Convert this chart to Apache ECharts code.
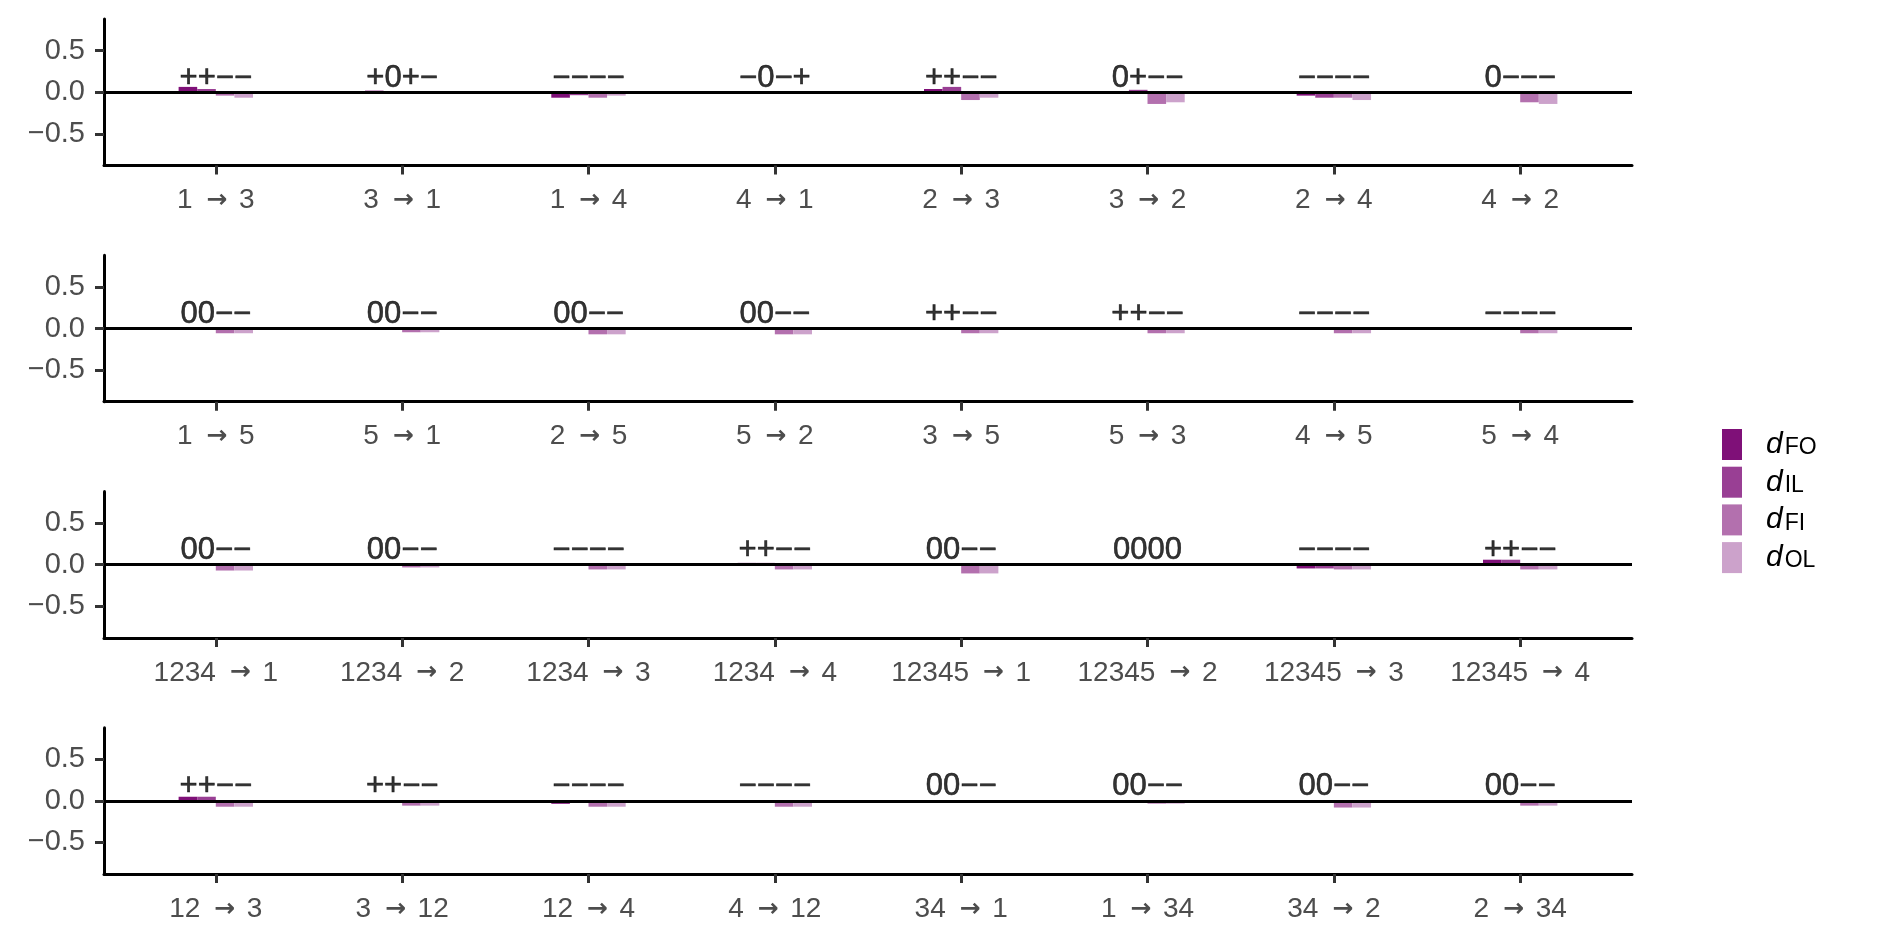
<!DOCTYPE html>
<html>
<head>
<meta charset="utf-8">
<script src="https://cdn.jsdelivr.net/npm/echarts@6/dist/echarts.min.js"></script>
<style>
html,body{margin:0;padding:0;background:#fff;}
#chart{width:1889px;height:944px;}
</style>
</head>
<body>
<div id="chart"></div>
<script>
// ---- data ----
const categories = [
  ['1 → 3','3 → 1','1 → 4','4 → 1','2 → 3','3 → 2','2 → 4','4 → 2'],
  ['1 → 5','5 → 1','2 → 5','5 → 2','3 → 5','5 → 3','4 → 5','5 → 4'],
  ['1234 → 1','1234 → 2','1234 → 3','1234 → 4','12345 → 1','12345 → 2','12345 → 3','12345 → 4'],
  ['12 → 3','3 → 12','12 → 4','4 → 12','34 → 1','1 → 34','34 → 2','2 → 34']
];
const dFO = [
  [0.065, 0.02, -0.065, -0.02, 0.04, 0.005, -0.04, -0.005],
  [0, 0.004, 0.004, 0, 0.005, 0.005, -0.004, -0.004],
  [0, 0, -0.004, 0.022, 0.004, 0, -0.045, 0.06],
  [0.05, 0.01, -0.035, -0.005, 0.005, 0.005, 0, 0.005]
];
const dIL = [
  [0.04, 0, -0.035, 0, 0.065, 0.03, -0.065, -0.02],
  [0, 0.004, 0, 0, 0.005, 0.005, -0.004, -0.004],
  [0, 0, -0.004, 0.022, 0, 0, -0.045, 0.06],
  [0.05, 0.01, -0.022, -0.005, 0.005, 0.005, 0, 0.005]
];
const dFI = [
  [-0.04, 0.008, -0.065, -0.008, -0.093, -0.14, -0.065, -0.12],
  [-0.057, -0.045, -0.07, -0.07, -0.057, -0.057, -0.057, -0.057],
  [-0.07, -0.033, -0.057, -0.057, -0.105, 0, -0.057, -0.057],
  [-0.07, -0.057, -0.07, -0.07, -0.004, -0.033, -0.08, -0.057]
];
const dOL = [
  [-0.065, -0.008, -0.04, 0.008, -0.065, -0.12, -0.093, -0.14],
  [-0.057, -0.045, -0.07, -0.07, -0.057, -0.057, -0.057, -0.057],
  [-0.07, -0.033, -0.057, -0.057, -0.105, 0, -0.057, -0.057],
  [-0.07, -0.057, -0.07, -0.07, -0.004, -0.033, -0.08, -0.057]
];
const signs = [
  ['++−−','+0+−','−−−−','−0−+','++−−','0+−−','−−−−','0−−−'],
  ['00−−','00−−','00−−','00−−','++−−','++−−','−−−−','−−−−'],
  ['00−−','00−−','−−−−','++−−','00−−','0000','−−−−','++−−'],
  ['++−−','++−−','−−−−','−−−−','00−−','00−−','00−−','00−−']
];
const seriesNames = ['dFO','dIL','dFI','dOL'];
const seriesSubs = ['FO','IL','FI','OL'];
const seriesColors = ['#7F1078','#993F94','#B370AE','#CCA2CB'];
const yTicks = [-0.5, 0, 0.5];
const signLabelY = 0.17;

// ---- layout ----
const FONT = "'Liberation Sans', Arial, sans-serif";
const gridLeft = 104, gridWidth = 1528, gridHeight = 146.4;
const gridTops = [19.1, 255.3, 491.5, 727.7];

const grids = [], xAxes = [], yAxes = [], series = [];
const allVals = [dFO, dIL, dFI, dOL];

for (let p = 0; p < 4; p++) {
  grids.push({left: gridLeft, top: gridTops[p], width: gridWidth, height: gridHeight, containLabel: false});
  const cats = categories[p];
  xAxes.push({
    gridIndex: p, type: 'value', min: 0.4, max: 8.6,
    axisLine: {show: true, onZero: false, lineStyle: {color: '#000', width: 3}},
    axisTick: {show: true, length: 9, lineStyle: {color: '#333', width: 3}, customValues: [1,2,3,4,5,6,7,8]},
    axisLabel: {show: true, customValues: [1,2,3,4,5,6,7,8], margin: 21, color: '#4D4D4D',
      fontFamily: FONT, fontSize: 28,
      formatter: v => (cats[Math.round(v) - 1] || '').replace('→', '{a|→}'),
      rich: {
        a: {fontFamily: "'DejaVu Sans'", fontWeight: 'bold', fontSize: 25, color: '#4D4D4D', padding: [0, 4, 0, 6]}
      }},
    splitLine: {show: false}
  });
  yAxes.push({
    gridIndex: p, type: 'value', min: -0.88, max: 0.88,
    axisLine: {show: true, onZero: false, lineStyle: {color: '#000', width: 3}},
    axisTick: {show: true, length: 9, lineStyle: {color: '#333', width: 3}, customValues: yTicks},
    axisLabel: {show: true, customValues: yTicks, margin: 19, color: '#4D4D4D',
      fontFamily: FONT, fontSize: 29,
      formatter: v => (v < 0 ? '\u2212' : '') + Math.abs(v).toFixed(1)},
    splitLine: {show: false}
  });
  for (let s = 0; s < 4; s++) {
    series.push({
      name: seriesNames[s], type: 'bar', xAxisIndex: p, yAxisIndex: p,
      barWidth: 18.6, barGap: '0%', z: 2,
      itemStyle: {color: seriesColors[s]},
      data: allVals[s][p].map((v, i) => [i + 1, v]),
      animation: false
    });
  }
  series.push({
    name: 'signs' + p, type: 'scatter', xAxisIndex: p, yAxisIndex: p, z: 5,
    symbolSize: 1, itemStyle: {color: 'rgba(0,0,0,0)'},
    data: signs[p].map((t, i) => [i + 1, signLabelY]),
    label: {show: true, position: 'inside', color: '#000', fontFamily: FONT, fontSize: 31,
      textBorderColor: '#000', textBorderWidth: 0.6,
      formatter: prm => signs[p][prm.dataIndex]},
    markLine: {silent: true, symbol: ['none','none'], label: {show: false},
      lineStyle: {color: '#000', width: 3, type: 'solid'}, data: [{yAxis: 0}], animation: false},
    animation: false, silent: true
  });
}

const chart = echarts.init(document.getElementById('chart'), null, {renderer: 'canvas'});
chart.setOption({
  backgroundColor: '#fff',
  animation: false,
  grid: grids, xAxis: xAxes, yAxis: yAxes, series: series,
  legend: {
    data: seriesNames, orient: 'vertical', left: 1717, top: 424,
    itemWidth: 20, itemHeight: 31, itemGap: 6.7, icon: 'rect', selectedMode: false,
    formatter: name => '{d|d}{s|' + seriesSubs[seriesNames.indexOf(name)] + '}',
    textStyle: {
      fontFamily: FONT, color: '#000',
      rich: {
        d: {fontFamily: FONT, fontStyle: 'italic', fontSize: 30, lineHeight: 30, color: '#000', padding: [0, 0, 0, 19], verticalAlign: 'middle'},
        s: {fontFamily: FONT, fontSize: 23, lineHeight: 16, color: '#000', verticalAlign: 'bottom', padding: [0, 0, 0, 2]}
      }
    }
  }
});
</script>
</body>
</html>
